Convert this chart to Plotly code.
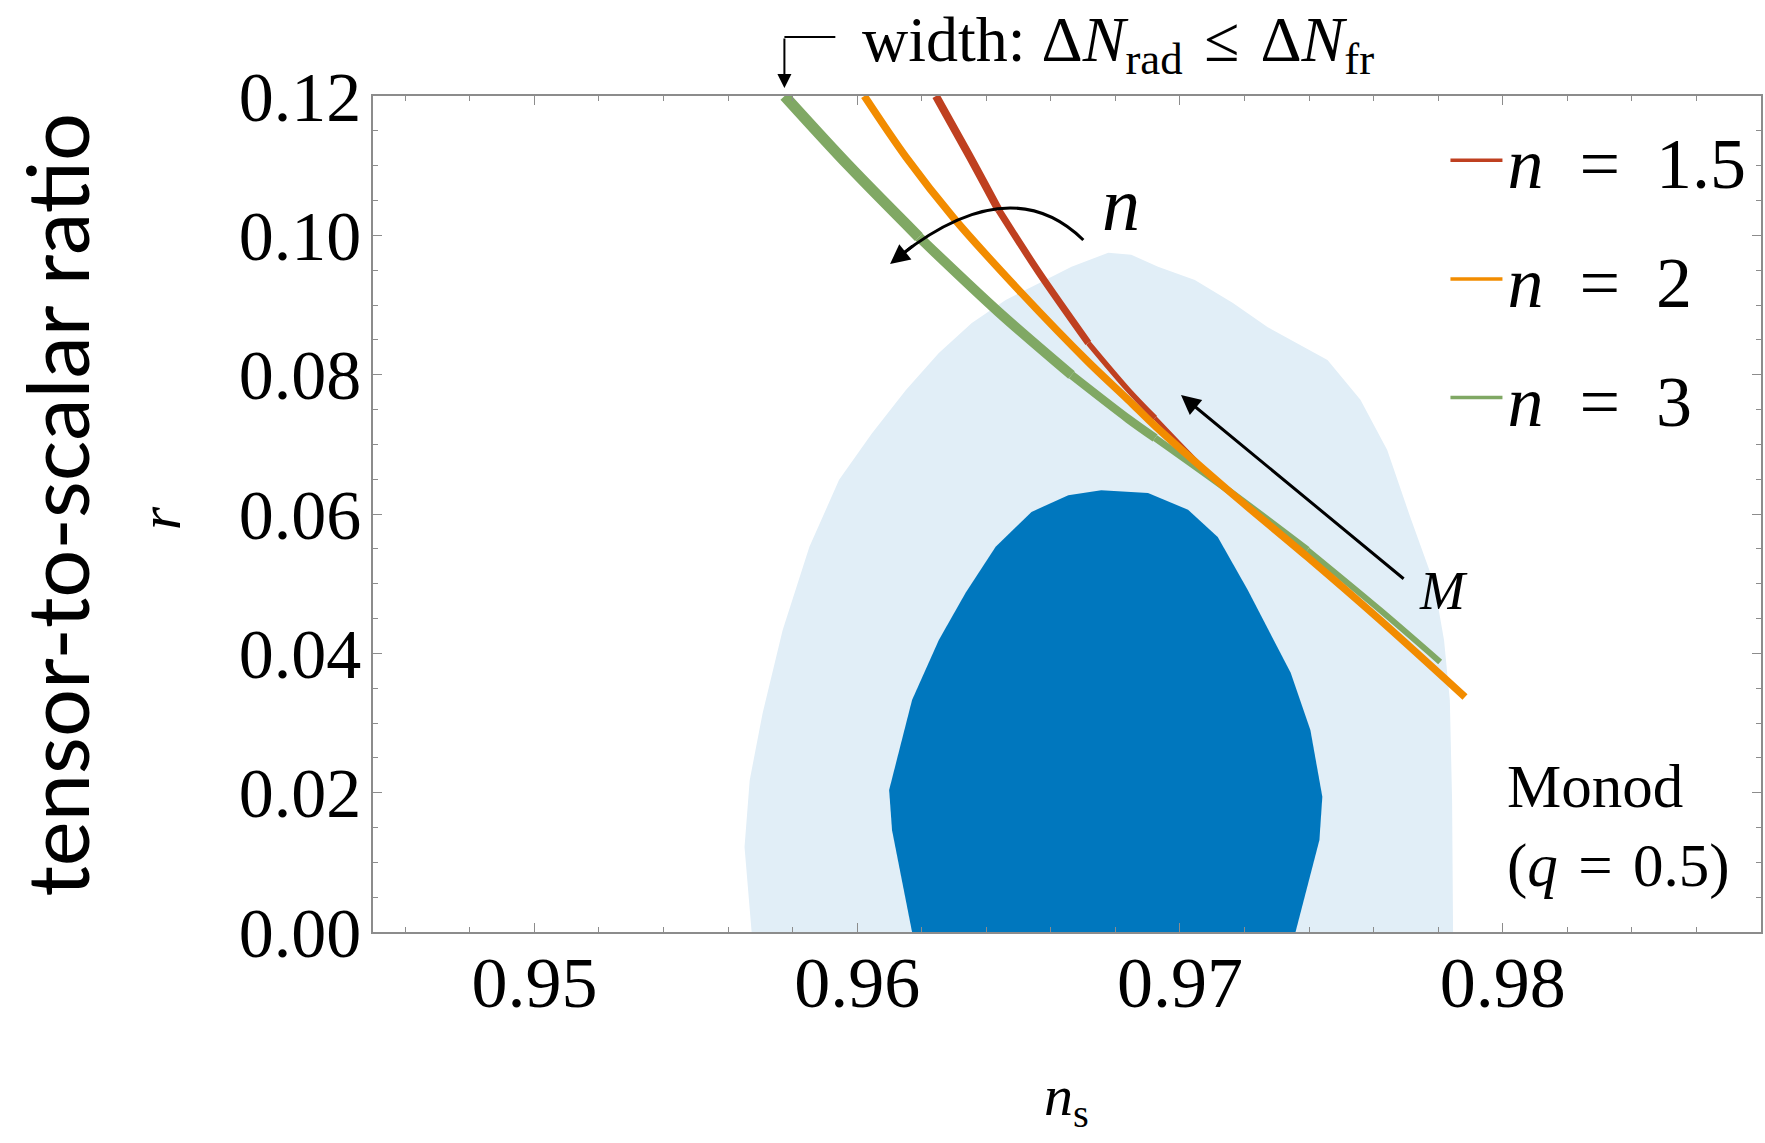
import plotly.graph_objects as go

# ---------------- data ----------------
# 95% CL (outer) contour
outer_ns = [0.95673, 0.95651, 0.95667, 0.95707, 0.95769, 0.95852, 0.95944, 0.96046,
            0.96151, 0.96253, 0.96355, 0.96460, 0.96540, 0.96664, 0.96778, 0.96849,
            0.96932, 0.97046, 0.97164, 0.97272, 0.97457, 0.97559, 0.97642, 0.97713,
            0.97787, 0.97818, 0.97836, 0.97843, 0.97846]
outer_r = [0.0, 0.0122, 0.0218, 0.0314, 0.0433, 0.0553, 0.0649, 0.0716,
           0.0778, 0.0831, 0.0874, 0.0907, 0.0926, 0.0955, 0.0975, 0.0972,
           0.0955, 0.0936, 0.0903, 0.0868, 0.0821, 0.0764, 0.0692, 0.0596,
           0.0501, 0.0419, 0.0333, 0.0189, 0.0]

# 68% CL (inner) contour
inner_ns = [0.96170, 0.96108, 0.96099, 0.96170, 0.96253, 0.96336, 0.96429, 0.96540,
            0.96654, 0.96756, 0.96901, 0.97025, 0.97117, 0.97210, 0.97343, 0.97404,
            0.97441, 0.97432, 0.97358]
inner_r = [0.0, 0.0146, 0.0204, 0.0333, 0.0419, 0.0487, 0.0553, 0.0603,
           0.0627, 0.0634, 0.0630, 0.0606, 0.0567, 0.0491, 0.0372, 0.0290,
           0.0194, 0.0132, 0.0]

# model predictions (n = 1.5, 2, 3)
n15_ns = [0.96244, 0.96346, 0.96438, 0.96562, 0.96716, 0.96840, 0.96923, 0.97117,
          0.97241, 0.97395, 0.97620]
n15_r = [0.12000, 0.11153, 0.10364, 0.09474, 0.08455, 0.07780, 0.07378, 0.06459,
         0.05971, 0.05383, 0.04478]

n2_ns = [0.96022, 0.96151, 0.96299, 0.96509, 0.96716, 0.96840, 0.96923, 0.97148,
         0.97395, 0.97620, 0.97883]
n2_r = [0.12000, 0.11124, 0.10249, 0.09172, 0.08182, 0.07637, 0.07263, 0.06344,
        0.05383, 0.04478, 0.03373]

n3_ns = [0.95775, 0.95975, 0.96191, 0.96438, 0.96664, 0.96840, 0.96923, 0.97148,
         0.97395, 0.97620, 0.97806]
n3_r = [0.12000, 0.10994, 0.09976, 0.08900, 0.07995, 0.07364, 0.07091, 0.06344,
        0.05483, 0.04621, 0.03876]

x_ticks = [0.95, 0.96, 0.97, 0.98]
x_ticktext = ["0.95", "0.96", "0.97", "0.98"]
y_ticks = [0.00, 0.02, 0.04, 0.06, 0.08, 0.10, 0.12]
y_ticktext = ["0.00", "0.02", "0.04", "0.06", "0.08", "0.10", "0.12"]

# ---------------- styling ----------------
SERIF = "Liberation Serif, Times New Roman, serif"
LIGHT = "rgb(225,238,247)"
DARK = "rgb(0,119,190)"
RED = "#BF4020"
ORANGE = "#F28C00"
GREEN = "#80A864"
AXC = "#8c8c8c"
SP = "\u2002"   # wider (math-like) spacing around relation signs
SP3 = "\u2004"

fig = go.Figure()

fig.add_trace(go.Scatter(x=outer_ns, y=outer_r, mode="lines", fill="toself",
                         fillcolor=LIGHT, line=dict(width=0, color=LIGHT),
                         showlegend=False, hoverinfo="skip"))
fig.add_trace(go.Scatter(x=inner_ns, y=inner_r, mode="lines", fill="toself",
                         fillcolor=DARK, line=dict(width=0, color=DARK),
                         showlegend=False, hoverinfo="skip"))


def add_tapered(xs, ys, color, name, pieces):
    """Draw a curve as overlapping spline pieces whose width narrows (band width)."""
    for (i0, i1, w) in pieces:
        fig.add_trace(go.Scatter(
            x=xs[i0:i1 + 1], y=ys[i0:i1 + 1], mode="lines", name=name,
            line=dict(color=color, width=w, shape="spline", smoothing=0.9),
            legendgroup=name, showlegend=False, hoverinfo="skip"))


def add_legend_entry(color, name, rank):
    fig.add_trace(go.Scatter(x=[None], y=[None], mode="lines", name=name,
                             line=dict(color=color, width=3.5),
                             legendgroup=name, legendrank=rank, showlegend=True))


N3 = f"<i>n</i>{SP}={SP}3"
N15 = f"<i>n</i>{SP}={SP}1.5"
N2 = f"<i>n</i>{SP}={SP}2"

add_tapered(n3_ns, n3_r, GREEN, N3,
            [(0, 2, 11), (2, 4, 10), (4, 6, 8.5), (6, 8, 7), (8, 10, 6)])
add_tapered(n15_ns, n15_r, RED, N15,
            [(0, 2, 8), (2, 4, 7), (4, 6, 5.5), (6, 8, 4), (8, 10, 3.5)])
add_tapered(n2_ns, n2_r, ORANGE, N2,
            [(0, len(n2_ns) - 1, 7.5)])

add_legend_entry(RED, N15, 1)
add_legend_entry(ORANGE, N2, 2)
add_legend_entry(GREEN, N3, 3)

# geometry helpers (plot area: x 373..1763, y 96..932 px)
L, R, T, B = 373, 1763, 96, 932
def px(X):
    return (X - L) / (R - L)
def py(Y):
    return (B - Y) / (B - T)
def dx(X):
    return 0.96 + (X - 858) / 32400.0
def dy(Y):
    return (932 - Y) * 0.12 / 836.0

annotations = []
shapes = []

# top label with bracket arrow
annotations.append(dict(xref="paper", yref="paper", x=px(861), y=py(44),
                        xanchor="left", yanchor="middle", showarrow=False,
                        text=f"width: Δ<i>N</i><sub>rad</sub>{SP3}≤{SP3}Δ<i>N</i><sub>fr</sub>",
                        font=dict(family=SERIF, size=64, color="black")))
shapes.append(dict(type="line", xref="paper", yref="paper",
                   x0=px(785), x1=px(836), y0=py(37), y1=py(37),
                   line=dict(color="black", width=2)))
annotations.append(dict(xref="paper", yref="paper", x=px(785), y=py(88),
                        ax=0, ay=-51, text="", showarrow=True,
                        arrowhead=2, arrowsize=1.4, arrowwidth=2, arrowcolor="black"))

# curved "n" arrow
shapes.append(dict(type="path", xref="x", yref="y",
                   path=f"M {dx(1085)},{dy(240)} Q {dx(1011)},{dy(168)} {dx(898)},{dy(258)}",
                   line=dict(color="black", width=3)))
annotations.append(dict(xref="x", yref="y", x=dx(891), y=dy(264),
                        axref="x", ayref="y", ax=dx(915), ay=dy(245),
                        text="", showarrow=True, arrowhead=2, arrowsize=1.3,
                        arrowwidth=3, arrowcolor="black"))
annotations.append(dict(xref="x", yref="y", x=dx(1123), y=dy(204), text="<i>n</i>",
                        xanchor="center", yanchor="middle",
                        showarrow=False, font=dict(family=SERIF, size=76, color="black")))

# straight "M" arrow
annotations.append(dict(xref="x", yref="y", x=dx(1183), y=dy(395),
                        axref="x", ayref="y", ax=dx(1408), ay=dy(580),
                        text="", showarrow=True, arrowhead=2, arrowsize=1.3,
                        arrowwidth=3, arrowcolor="black"))
annotations.append(dict(xref="x", yref="y", x=dx(1447), y=dy(591), text="<i>M</i>",
                        xanchor="center", yanchor="middle",
                        showarrow=False, font=dict(family=SERIF, size=54, color="black")))

# model label
annotations.append(dict(xref="x", yref="y", x=dx(1508), y=dy(786), xanchor="left",
                        yanchor="middle", text="Monod", showarrow=False,
                        font=dict(family=SERIF, size=61, color="black")))
annotations.append(dict(xref="x", yref="y", x=dx(1508), y=dy(866), xanchor="left",
                        yanchor="middle", text=f"(<i>q</i>{SP3}={SP3}0.5)", showarrow=False,
                        font=dict(family=SERIF, size=61, color="black")))

# axis titles
annotations.append(dict(xref="paper", yref="paper", x=px(1067), y=py(1099),
                        xanchor="center", yanchor="middle",
                        text="<i>n</i><sub>s</sub>", showarrow=False,
                        font=dict(family=SERIF, size=58, color="black")))
annotations.append(dict(xref="paper", yref="paper", x=px(160), y=py(518),
                        xanchor="center", yanchor="middle",
                        text="<i>r</i>", textangle=-90, showarrow=False,
                        font=dict(family=SERIF, size=60, color="black")))
annotations.append(dict(xref="paper", yref="paper", x=px(56), y=py(504),
                        xanchor="center", yanchor="middle",
                        text="tensor-to-scalar ratio", textangle=-90, showarrow=False,
                        font=dict(family="Lato, Open Sans, sans-serif", size=85, color="black")))

fig.update_layout(
    width=1765, height=1143,
    margin=dict(l=L, r=1765 - R, t=T, b=1143 - B),
    paper_bgcolor="white", plot_bgcolor="white",
    showlegend=True,
    legend=dict(x=px(1447), y=py(107), xanchor="left", yanchor="top",
                bgcolor="rgba(0,0,0,0)", borderwidth=0, itemwidth=52,
                font=dict(family=SERIF, size=72, color="black"),
                traceorder="grouped", tracegroupgap=22),
    annotations=annotations,
    shapes=shapes,
)

axis_common = dict(showgrid=False, zeroline=False, showline=True, linecolor=AXC,
                   linewidth=1.5, mirror="ticks", ticks="inside", ticklen=9,
                   tickwidth=1.2, tickcolor=AXC)

fig.update_xaxes(range=[0.945, 0.988], tickvals=x_ticks, ticktext=x_ticktext,
                 tickfont=dict(family=SERIF, size=72, color="black"),
                 ticklabelstandoff=-13,
                 minor=dict(dtick=0.002, tick0=0.95, ticks="inside", ticklen=5,
                            tickwidth=1, tickcolor=AXC, showgrid=False),
                 **axis_common)
fig.update_yaxes(range=[0.0, 0.12], tickvals=y_ticks, ticktext=y_ticktext,
                 tickfont=dict(family=SERIF, size=70, color="black"),
                 ticklabelstandoff=-4,
                 minor=dict(dtick=0.005, tick0=0.0, ticks="inside", ticklen=5,
                            tickwidth=1, tickcolor=AXC, showgrid=False),
                 **axis_common)

fig.write_html("out.html", config={"displayModeBar": False},
               post_script="document.body.style.margin='0';document.body.style.overflow='hidden';")
